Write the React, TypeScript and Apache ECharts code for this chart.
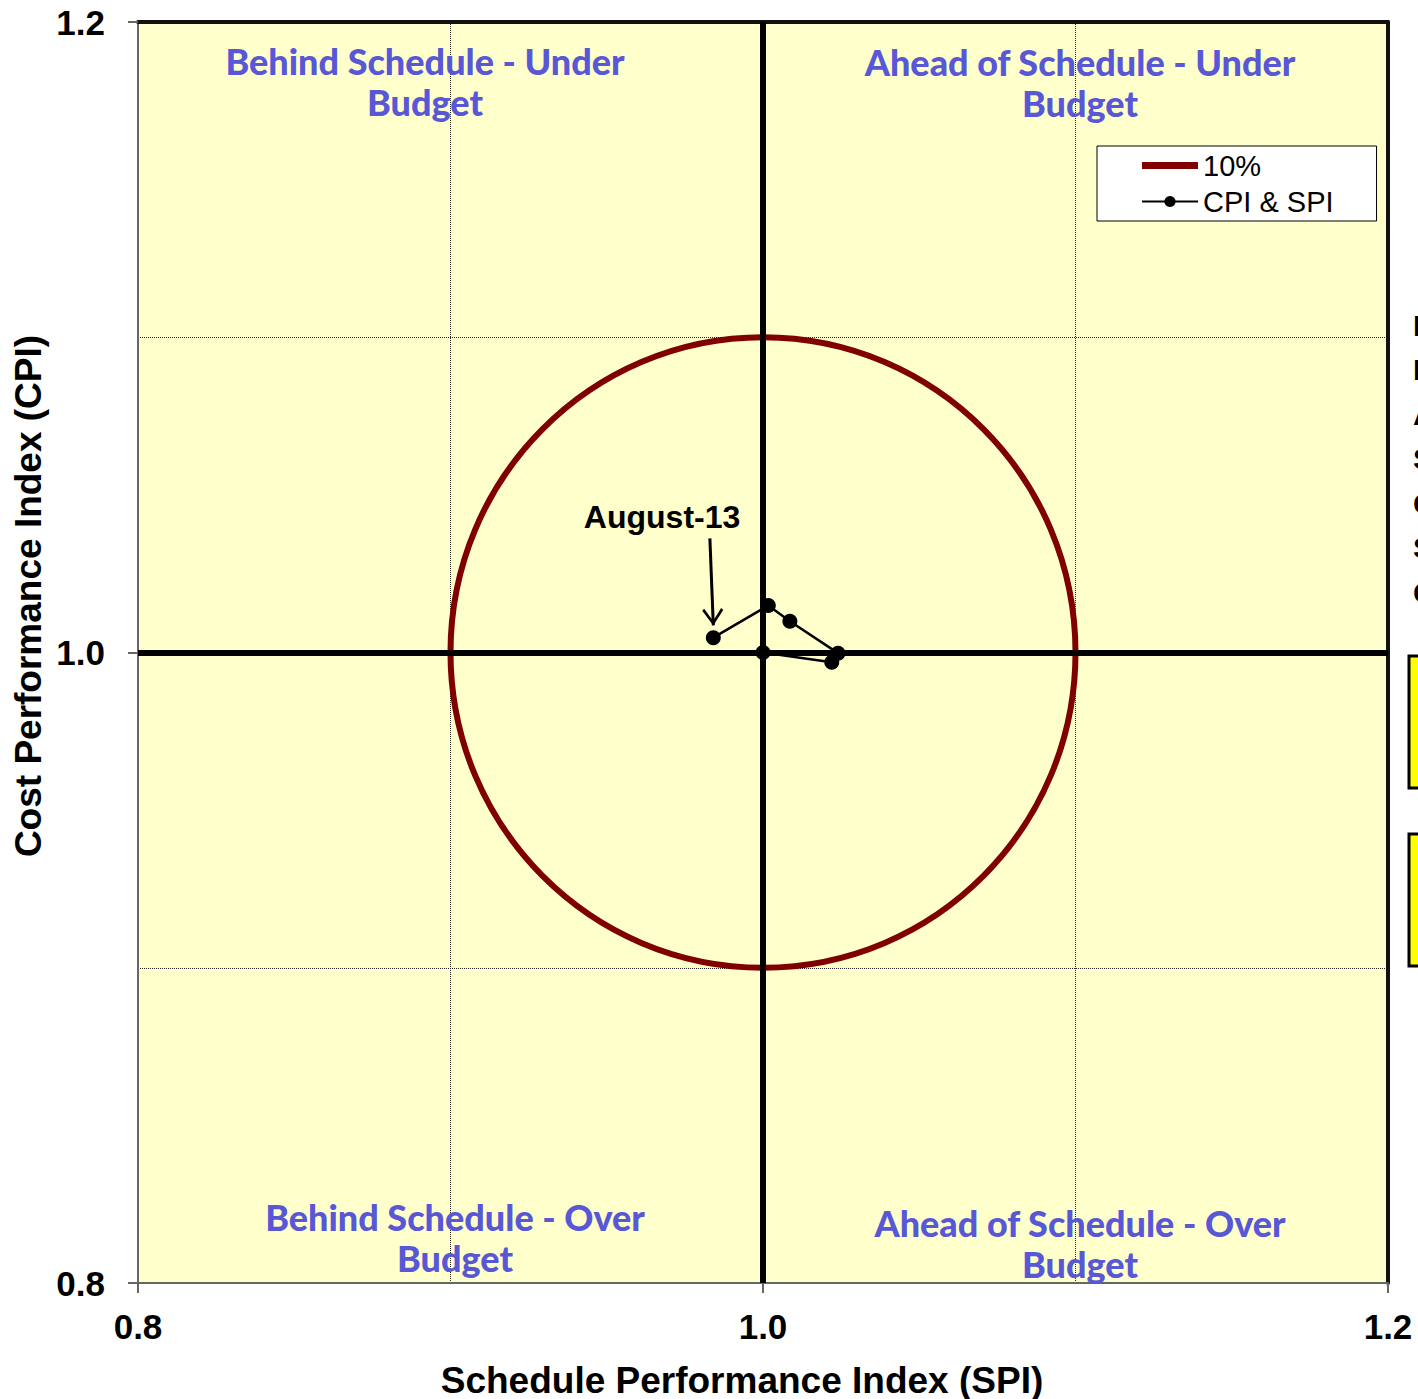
import React, { useEffect, useRef } from "react";
import * as echarts from "echarts";

// ---- data ----
const axisMin = 0.8;
const axisMax = 1.2;
const axisStep = 0.2;
const threshold = [[1.0, 1.0, 0.1]]; // center SPI, center CPI, radius (10%)
const spiValues = [1.0, 1.022, 1.024, 1.0086, 1.0017, 0.9841];
const cpiValues = [1.0, 0.9969, 0.9998, 1.0099, 1.0149, 1.0047];
const latestLabel = "August-13";
const arrowFrom = [0.983, 1.0362];
const arrowTo = [0.9841, 1.0086];
const labelAt = [0.9677, 1.0429];
const quadrantLabels = [
  "Behind Schedule - Under\nBudget",
  "Ahead of Schedule - Under\nBudget",
  "Behind Schedule - Over\nBudget",
  "Ahead of Schedule - Over\nBudget",
];
const sideTexts = ["Project", "Period", "As of", "SPI", "CPI", "SV", "CV"];

const FONT = "'Liberation Sans', Arial, sans-serif";
const QFONT = "Lato, 'DejaVu Sans', sans-serif";
const QCOLOR = "#5858D6";

const arrowHead =
  "path://M10.5,3 L10.6,3 L10.6,3.1 Z M10.5,20 L21,35 L19,37 L10.5,24.5 L2,37 L0,35 Z";

export default function App() {
  const ref = useRef<HTMLDivElement>(null);
  useEffect(() => {
    document.body.style.margin = "0";
    document.body.style.overflow = "hidden";
    if (!ref.current) return;
    const chart = echarts.init(ref.current, null, { renderer: "svg" });
    const points = spiValues.map((x, i) => [x, cpiValues[i]]);
    const qText = (text: string, x: number, y: number) => ({
      type: "text",
      x,
      y,
      z: 10,
      style: {
        text,
        fill: QCOLOR,
        font: `900 36px ${QFONT}`,
        textAlign: "center",
        align: "center",
        textVerticalAlign: "middle",
        verticalAlign: "middle",
        lineHeight: 41,
      },
    });
    const frameAxis = (position: string) => ({
      type: "value",
      min: axisMin,
      max: axisMax,
      interval: axisStep,
      position,
      axisLine: { show: true, lineStyle: { color: "#111", width: 4 } },
      axisTick: { show: false },
      axisLabel: { show: false },
      splitLine: { show: false },
    });
    const option: any = {
      animation: false,
      grid: {
        left: 138,
        right: 30,
        top: 22,
        bottom: 116,
        show: true,
        backgroundColor: "#FFFFCC",
        borderWidth: 0,
      },
      legend: {
        orient: "vertical",
        left: 1097,
        top: 146,
        backgroundColor: "#fff",
        borderColor: "#000",
        borderWidth: 1,
        borderRadius: 0,
        padding: [5, 43, 5, 44],
        itemWidth: 56,
        itemHeight: 14,
        itemGap: 7,
        textStyle: { fontSize: 29, color: "#000", fontFamily: FONT },
        data: [
          {
            name: "10%",
            icon: "path://M0,0 H56 V7 H0 Z",
            itemStyle: { color: "#800000" },
          },
          { name: "CPI & SPI" },
        ],
      },
      xAxis: [
        {
          type: "value",
          min: axisMin,
          max: axisMax,
          interval: axisStep,
          position: "bottom",
          axisLine: { show: true, lineStyle: { color: "#666", width: 2 } },
          axisTick: { show: true, length: 10, lineStyle: { color: "#666", width: 2 } },
          axisLabel: {
            fontSize: 35,
            fontWeight: "bold",
            color: "#000",
            fontFamily: FONT,
            margin: 26,
            formatter: (v: number) => v.toFixed(1),
          },
          splitLine: { show: false },
          minorTick: { show: false, splitNumber: 2 },
          minorSplitLine: { show: true, lineStyle: { color: "#222", type: "dotted", width: 1 } },
        },
        frameAxis("top"),
      ],
      yAxis: [
        {
          type: "value",
          min: axisMin,
          max: axisMax,
          interval: axisStep,
          position: "left",
          axisLine: { show: true, lineStyle: { color: "#666", width: 2 } },
          axisTick: { show: true, length: 10, lineStyle: { color: "#666", width: 2 } },
          axisLabel: {
            fontSize: 35,
            fontWeight: "bold",
            color: "#000",
            fontFamily: FONT,
            margin: 33,
            formatter: (v: number) => v.toFixed(1),
          },
          splitLine: { show: false },
          minorTick: { show: false, splitNumber: 2 },
          minorSplitLine: { show: true, lineStyle: { color: "#222", type: "dotted", width: 1 } },
        },
        frameAxis("right"),
      ],
      series: [
        {
          name: "10%",
          type: "custom",
          z: 1,
          itemStyle: { color: "#800000" },
          data: threshold,
          encode: { x: 0, y: 1 },
          renderItem: (params: any, api: any) => {
            const c = api.coord([api.value(0), api.value(1)]);
            const s = api.size([api.value(2), api.value(2)]);
            return {
              type: "ellipse",
              shape: { cx: c[0], cy: c[1], rx: s[0], ry: s[1] },
              style: { fill: "none", stroke: "#800000", lineWidth: 6 },
            };
          },
        },
        {
          name: "axes",
          type: "line",
          z: 2,
          data: [[1, 1]],
          symbol: "none",
          lineStyle: { width: 0 },
          silent: true,
          markLine: {
            silent: true,
            symbol: "none",
            label: { show: false },
            lineStyle: { color: "#000", width: 6, type: "solid" },
            data: [{ xAxis: 1.0 }, { yAxis: 1.0 }],
          },
        },
        {
          name: "annotation",
          type: "line",
          z: 4,
          data: [],
          silent: true,
          markLine: {
            silent: true,
            symbol: ["none", arrowHead],
            symbolSize: [21, 34],
            label: { show: false },
            lineStyle: { color: "#000", width: 3, type: "solid" },
            data: [[{ coord: arrowFrom }, { coord: arrowTo }]],
          },
          markPoint: {
            silent: true,
            symbol: "circle",
            symbolSize: 1,
            itemStyle: { color: "rgba(0,0,0,0)" },
            label: {
              show: true,
              position: "inside",
              formatter: latestLabel,
              fontSize: 32,
              fontWeight: "bold",
              color: "#000",
              fontFamily: FONT,
            },
            data: [{ coord: labelAt }],
          },
        },
        {
          name: "CPI & SPI",
          type: "line",
          z: 5,
          data: points,
          symbol: "circle",
          symbolSize: 15,
          itemStyle: { color: "#000" },
          lineStyle: { color: "#000", width: 2.5 },
        },
      ],
      graphic: [
        qText(quadrantLabels[0], 425, 81),
        qText(quadrantLabels[1], 1080, 82),
        qText(quadrantLabels[2], 455, 1237),
        qText(quadrantLabels[3], 1080, 1243),
        {
          type: "text",
          x: 742,
          y: 1380,
          style: {
            text: "Schedule Performance Index (SPI)",
            fill: "#000",
            font: `bold 37px ${FONT}`,
            textAlign: "center",
            align: "center",
            textVerticalAlign: "middle",
            verticalAlign: "middle",
          },
        },
        {
          type: "text",
          x: 28,
          y: 596,
          rotation: Math.PI / 2,
          style: {
            text: "Cost Performance Index (CPI)",
            fill: "#000",
            font: `bold 37px ${FONT}`,
            textAlign: "center",
            align: "center",
            textVerticalAlign: "middle",
            verticalAlign: "middle",
          },
        },
        ...sideTexts.map((t, i) => ({
          type: "text",
          x: 1413,
          y: 325 + i * 44.5,
          style: {
            text: t,
            fill: "#000",
            font: `bold 30px ${FONT}`,
            textAlign: "left",
            align: "left",
            textVerticalAlign: "middle",
            verticalAlign: "middle",
          },
        })),
        {
          type: "rect",
          shape: { x: 1409, y: 656, width: 20, height: 132 },
          style: { fill: "#FFFF00", stroke: "#000", lineWidth: 3 },
        },
        {
          type: "rect",
          shape: { x: 1409, y: 834, width: 20, height: 132 },
          style: { fill: "#FFFF00", stroke: "#000", lineWidth: 3 },
        },
      ],
    };
    chart.setOption(option);
    return () => chart.dispose();
  }, []);
  return <div ref={ref} style={{ width: 1418, height: 1399 }} />;
}
